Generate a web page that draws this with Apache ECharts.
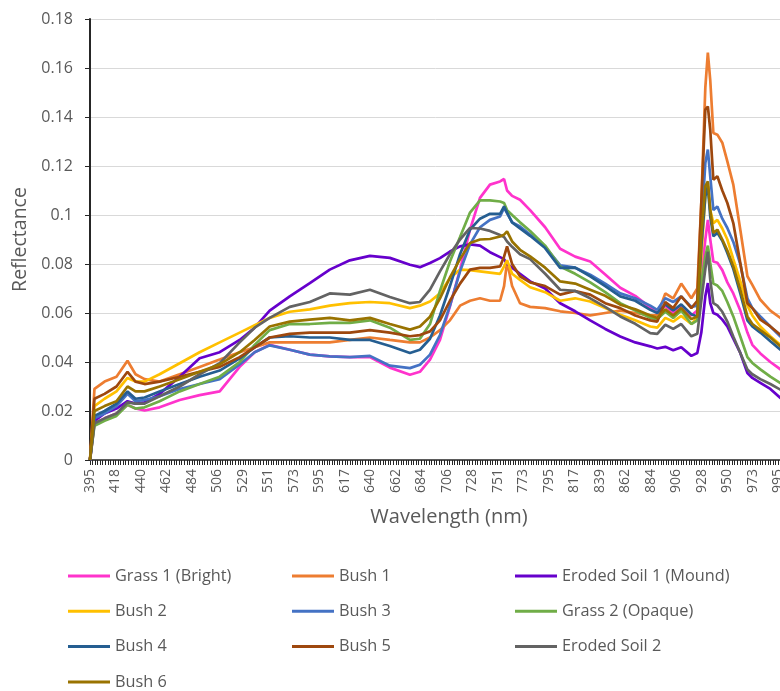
<!DOCTYPE html>
<html><head><meta charset="utf-8">
<script src="https://cdn.jsdelivr.net/npm/echarts@6/dist/echarts.min.js"></script>
<style>html,body{margin:0;padding:0;background:#fff}#c{width:780px;height:691px}</style>
</head><body><div id="c"></div>
<script>
// Wavelength (nm) of each sampled point
const wavelengths = [395.3, 399.2, 408.0, 418.4, 428.0, 435.0, 442.9, 456.0, 473.5, 490.9,
  508.4, 525.8, 538.9, 552.0, 569.5, 587.0, 604.4, 621.9, 639.4, 656.8,
  674.3, 683.0, 691.8, 700.5, 709.2, 718.0, 726.7, 735.4, 744.1, 752.9,
  756.4, 759.0, 763.4, 770.3, 779.1, 792.2, 805.3, 818.4, 831.5, 844.6,
  857.7, 870.8, 883.9, 890.0, 897.0, 903.9, 910.9, 919.7, 924.9, 928.4,
  931.9, 934.1, 936.2, 938.9, 942.4, 946.7, 951.1, 956.3, 962.4, 968.6,
  972.9, 979.9, 988.6, 997.4, 1003.5];

const xTickLabels = ['395','418','440','462','484','506','529','551','573','595','617','640','662','684',
  '706','728','751','773','795','817','839','862','884','906','928','950','973','995'];

const grass1Bright = [0, 0.015, 0.017, 0.019, 0.0225,  0.021, 0.0202, 0.0215, 0.0245, 0.0265,
  0.028, 0.038, 0.044, 0.047, 0.045,  0.043, 0.0423, 0.042, 0.042, 0.0377,
  0.0348, 0.036, 0.041, 0.049, 0.0627,  0.0777, 0.094, 0.107, 0.1124, 0.1137,
  0.1147, 0.110, 0.1078, 0.1062, 0.102,  0.095, 0.0862, 0.083, 0.081, 0.0757,
  0.0703, 0.067, 0.0622, 0.060, 0.063,  0.060, 0.063, 0.059, 0.061, 0.075,
  0.090, 0.098, 0.090, 0.081, 0.0805,  0.0775, 0.0725, 0.068, 0.061, 0.052,
  0.047, 0.0435, 0.040, 0.037, 0.035];

const bush1 = [0, 0.029, 0.032, 0.034, 0.0405,  0.035, 0.033, 0.032, 0.035, 0.038,
  0.041, 0.044, 0.046, 0.048, 0.048,  0.048, 0.048, 0.049, 0.050, 0.049,
  0.048, 0.048, 0.050, 0.053, 0.057,  0.063, 0.065, 0.066, 0.065, 0.065,
  0.071, 0.081, 0.071, 0.064, 0.0625,  0.062, 0.0607, 0.060, 0.059, 0.060,
  0.061, 0.060, 0.059, 0.059, 0.068,  0.066, 0.072, 0.066, 0.070, 0.105,
  0.152, 0.1663, 0.155, 0.1335, 0.1328,  0.1295, 0.1219, 0.1124, 0.094, 0.075,
  0.0715, 0.0654, 0.061, 0.058, 0.057];

const erodedSoil1 = [0, 0.016, 0.019, 0.021, 0.024,  0.023, 0.0235, 0.027, 0.034, 0.0415,
  0.044, 0.049, 0.054, 0.061, 0.0668,  0.0722, 0.0777, 0.0815, 0.0833, 0.0825,
  0.0797, 0.0787, 0.0804, 0.0824, 0.0851,  0.0872, 0.088, 0.0875, 0.0848, 0.0828,
  0.082, 0.080, 0.0785, 0.076, 0.0729,  0.070, 0.064, 0.0607, 0.057, 0.0535,
  0.0504, 0.048, 0.0464, 0.0455, 0.0462,  0.0448, 0.046, 0.0425, 0.0437, 0.052,
  0.0668, 0.0722, 0.064, 0.060, 0.0593,  0.0573, 0.0545, 0.0495, 0.0437, 0.0355,
  0.0335, 0.0315, 0.029, 0.0253, 0.024];

const bush2 = [0, 0.022, 0.025, 0.028, 0.0335,  0.032, 0.032, 0.035, 0.0395, 0.044,
  0.048, 0.052, 0.055, 0.058, 0.0605,  0.0615, 0.063, 0.064, 0.0645, 0.064,
  0.062, 0.063, 0.0647, 0.068, 0.0743,  0.0777, 0.0775, 0.077, 0.0765, 0.076,
  0.079, 0.0815, 0.076, 0.0735, 0.0705,  0.0685, 0.065, 0.066, 0.0647, 0.062,
  0.0593, 0.057, 0.0545, 0.054, 0.058,  0.0565, 0.0588, 0.0555, 0.058, 0.083,
  0.1076, 0.113, 0.102, 0.0967, 0.098,  0.0945, 0.090, 0.082, 0.073, 0.063,
  0.059, 0.0545, 0.0505, 0.047, 0.046];

const bush3 = [0, 0.017, 0.019, 0.022, 0.027,  0.024, 0.0245, 0.026, 0.029, 0.031,
  0.033, 0.039, 0.044, 0.0468, 0.045,  0.043, 0.0423, 0.042, 0.0425, 0.0385,
  0.0375, 0.0389, 0.043, 0.051, 0.063,  0.077, 0.088, 0.095, 0.098, 0.0994,
  0.1029, 0.1008, 0.097, 0.0953, 0.092,  0.087, 0.0795, 0.0785, 0.0756, 0.072,
  0.068, 0.066, 0.063, 0.0613, 0.066,  0.0645, 0.0668, 0.0625, 0.063, 0.094,
  0.1212, 0.1267, 0.1158, 0.102, 0.1035,  0.0985, 0.0947, 0.089, 0.080, 0.066,
  0.062, 0.0586, 0.0545, 0.0504, 0.049];

const grass2Opaque = [0, 0.014, 0.016, 0.018, 0.0225,  0.021, 0.0215, 0.024, 0.028, 0.031,
  0.034, 0.040, 0.047, 0.053, 0.0555,  0.0555, 0.056, 0.056, 0.057, 0.054,
  0.049, 0.0495, 0.0555, 0.069, 0.081,  0.091, 0.101, 0.106, 0.106, 0.1055,
  0.1049, 0.102, 0.100, 0.097, 0.0935,  0.0875, 0.079, 0.076, 0.0725, 0.0685,
  0.064, 0.061, 0.058, 0.0575, 0.0605,  0.058, 0.061, 0.0555, 0.057, 0.0722,
  0.083, 0.0875, 0.0804, 0.072, 0.0712,  0.069, 0.0645, 0.0586, 0.0504, 0.042,
  0.0396, 0.037, 0.034, 0.0314, 0.030];

const bush4 = [0, 0.018, 0.020, 0.023, 0.028,  0.025, 0.0255, 0.028, 0.031, 0.034,
  0.0365, 0.0415, 0.046, 0.050, 0.0505,  0.050, 0.050, 0.049, 0.049, 0.0465,
  0.0437, 0.045, 0.0495, 0.059, 0.071,  0.084, 0.094, 0.0985, 0.1005, 0.1005,
  0.1035, 0.101, 0.097, 0.0945, 0.0915,  0.0865, 0.0784, 0.0785, 0.075, 0.071,
  0.0668, 0.065, 0.0613, 0.060, 0.0635,  0.061, 0.0635, 0.0595, 0.0586, 0.0872,
  0.1076, 0.1117, 0.0994, 0.0913, 0.0927,  0.0895, 0.0845, 0.078, 0.068, 0.057,
  0.0545, 0.052, 0.0485, 0.045, 0.044];

const bush5 = [0, 0.025, 0.027, 0.030, 0.036,  0.032, 0.031, 0.032, 0.034, 0.036,
  0.038, 0.042, 0.046, 0.050, 0.0515,  0.052, 0.052, 0.052, 0.053, 0.052,
  0.0505, 0.051, 0.0525, 0.057, 0.065,  0.072, 0.0777, 0.0784, 0.0784, 0.079,
  0.083, 0.0872, 0.080, 0.075, 0.0725,  0.071, 0.0675, 0.069, 0.0675, 0.064,
  0.062, 0.059, 0.057, 0.0565, 0.0645,  0.062, 0.0668, 0.062, 0.065, 0.105,
  0.143, 0.1443, 0.1348, 0.1144, 0.1158,  0.110, 0.1049, 0.0967, 0.0804, 0.064,
  0.062, 0.0573, 0.0545, 0.0511, 0.050];

const erodedSoil2 = [0, 0.015, 0.017, 0.019, 0.0235,  0.023, 0.023, 0.026, 0.030, 0.035,
  0.0395, 0.048, 0.054, 0.058, 0.0625,  0.0645, 0.068, 0.0675, 0.0695, 0.0665,
  0.064, 0.0645, 0.0695, 0.077, 0.084,  0.090, 0.0947, 0.0945, 0.0935, 0.0918,
  0.091, 0.0892, 0.087, 0.084, 0.082,  0.076, 0.0695, 0.069, 0.066, 0.0625,
  0.0586, 0.0556, 0.0518, 0.0515, 0.0552,  0.0535, 0.0555, 0.0505, 0.0515, 0.065,
  0.078, 0.085, 0.0735, 0.064, 0.063,  0.0605, 0.0565, 0.0504, 0.0437, 0.0369,
  0.035, 0.033, 0.031, 0.0287, 0.028];

const bush6 = [0, 0.020, 0.022, 0.024, 0.030,  0.028, 0.028, 0.030, 0.033, 0.036,
  0.039, 0.044, 0.049, 0.0545, 0.0565,  0.0573, 0.058, 0.057, 0.058, 0.0555,
  0.0532, 0.0545, 0.0585, 0.066, 0.0745,  0.082, 0.0886, 0.090, 0.0902, 0.0912,
  0.092, 0.0933, 0.0892, 0.0858, 0.0831,  0.0785, 0.0729, 0.072, 0.0695, 0.067,
  0.0634, 0.0615, 0.059, 0.058, 0.0615,  0.059, 0.062, 0.0575, 0.0586, 0.0913,
  0.1117, 0.1137, 0.102, 0.0927, 0.094,  0.090, 0.0855, 0.079, 0.0695, 0.0586,
  0.0555, 0.053, 0.050, 0.0464, 0.0455];

const seriesNames = ['Grass 1 (Bright)', 'Bush 1', 'Eroded Soil 1 (Mound)', 'Bush 2', 'Bush 3',
  'Grass 2 (Opaque)', 'Bush 4', 'Bush 5', 'Eroded Soil 2', 'Bush 6'];
const seriesValues = [grass1Bright, bush1, erodedSoil1, bush2, bush3, grass2Opaque, bush4, bush5, erodedSoil2, bush6];
const seriesColors = ['#FF33CC', '#ED7D31', '#6600CC', '#FFC000', '#4472C4', '#70AD47', '#255E91', '#9E480E', '#636363', '#997300'];

const X_MIN = 395.3, X_STEP = 22.2222, X_MAX = 1004;
const FONT = 'Open Sans';
const TXT = '#595959';
const AX = '#262626';

function xLabel(v) {
  const k = Math.round((v - X_MIN) / X_STEP);
  if (k < 0 || k >= xTickLabels.length) return '';
  if (Math.abs(v - (X_MIN + k * X_STEP)) > 0.5) return '';
  return xTickLabels[k];
}

// legend placement: three columns, items ordered row by row
const legendColLeft = [68, 292, 515];
const legendRowTop = [566, 601.3, 636.6, 672];

const chart = echarts.init(document.getElementById('c'));
chart.setOption({
  animation: false,
  backgroundColor: '#ffffff',
  grid: { left: 90, top: 19, right: -8, bottom: 231, containLabel: false, outerBoundsMode: 'none' },
  xAxis: {
    type: 'value', min: X_MIN, max: X_MAX, interval: X_STEP,
    name: 'Wavelength (nm)', nameLocation: 'middle', nameGap: 47,
    nameTextStyle: { fontFamily: FONT, fontSize: 20, color: TXT, padding: [0, 0, 0, 20] },
    axisLine: { show: true, onZero: false, lineStyle: { color: AX, width: 1.5 } },
    axisTick: { show: true, length: 5, inside: false, lineStyle: { color: AX, width: 1 } },
    minorTick: { show: true, splitNumber: 10, length: 5, lineStyle: { color: AX, width: 1 } },
    splitLine: { show: false },
    minorSplitLine: { show: false },
    axisLabel: { rotate: 90, fontFamily: FONT, fontSize: 14, color: TXT, margin: 9,
      showMaxLabel: false, showMinLabel: true, formatter: xLabel }
  },
  yAxis: {
    type: 'value', min: 0, max: 0.18, interval: 0.02,
    name: 'Reflectance', nameLocation: 'middle', nameGap: 57, nameRotate: 90,
    nameTextStyle: { fontFamily: FONT, fontSize: 19.5, color: TXT },
    axisLine: { show: true, lineStyle: { color: AX, width: 2 } },
    axisTick: { show: true, length: 5, inside: false, lineStyle: { color: AX, width: 1 } },
    splitLine: { show: true, lineStyle: { color: '#D9D9D9', width: 1 } },
    axisLabel: { fontFamily: FONT, fontSize: 16, color: TXT, margin: 17 }
  },
  legend: seriesNames.map((name, i) => ({
    orient: 'horizontal', left: legendColLeft[i % 3], top: legendRowTop[Math.floor(i / 3)], padding: 0,
    itemWidth: 42, itemHeight: 3, icon: 'rect', selectedMode: false,
    data: [name],
    textStyle: { fontFamily: FONT, fontSize: 16.3, color: TXT, lineHeight: 20 }
  })),
  series: seriesNames.map((name, s) => ({
    name: name, type: 'line', symbol: 'none', showSymbol: false, smooth: false,
    color: seriesColors[s],
    lineStyle: { width: 2.7, color: seriesColors[s] },
    emphasis: { disabled: true },
    data: wavelengths.map((w, i) => [w, seriesValues[s][i]])
  }))
});
</script>
</body></html>
